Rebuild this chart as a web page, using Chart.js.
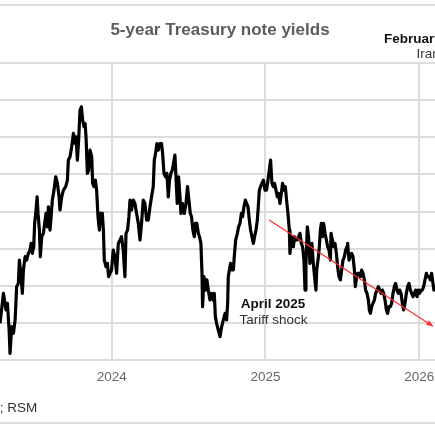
<!DOCTYPE html>
<html><head><meta charset="utf-8">
<script src="https://cdn.jsdelivr.net/npm/chart.js@4.4.1/dist/chart.umd.min.js"></script>
<style>
html,body{margin:0;padding:0;width:435px;height:435px;overflow:hidden;background:#fff;position:relative;}
#wrap{position:absolute;left:-200px;top:0;width:840px;height:435px;}
.rule{position:absolute;left:0;width:435px;height:2px;background:#dedede;}
</style></head><body>
<div class="rule" style="top:4px"></div>
<div class="rule" style="top:422px"></div>
<div id="wrap"><canvas id="c" width="840" height="435"></canvas></div>
<script>
const TITLE = '5-year Treasury note yields';
const years = [
2023.274,2023.296,2023.313,2023.322,2023.333,2023.339,2023.350,2023.361,2023.372,2023.382,
2023.393,2023.400,2023.411,2023.419,2023.426,2023.437,2023.447,2023.458,2023.469,2023.476,
2023.484,2023.493,2023.499,2023.508,2023.515,2023.521,2023.530,2023.536,2023.545,2023.556,
2023.564,2023.573,2023.582,2023.588,2023.599,2023.606,2023.614,2023.625,2023.636,2023.647,
2023.658,2023.664,2023.675,2023.686,2023.701,2023.712,2023.718,2023.729,2023.740,2023.751,
2023.762,2023.768,2023.777,2023.785,2023.794,2023.803,2023.811,2023.820,2023.827,2023.833,
2023.842,2023.850,2023.859,2023.870,2023.876,2023.885,2023.894,2023.902,2023.911,2023.920,
2023.928,2023.939,2023.946,2023.952,2023.963,2023.972,2023.980,2023.989,
2023.999,2024.010,2024.021,2024.032,2024.043,2024.054,2024.064,2024.075,2024.086,2024.093,
2024.103,2024.112,2024.119,2024.129,2024.140,2024.151,2024.162,2024.173,2024.184,2024.194,
2024.205,2024.216,2024.227,2024.238,2024.249,2024.259,2024.270,2024.277,2024.285,2024.294,
2024.303,2024.314,2024.324,2024.331,2024.340,2024.350,2024.359,2024.368,2024.376,2024.385,
2024.394,2024.402,2024.411,2024.418,2024.426,2024.435,2024.444,2024.450,2024.461,2024.472,
2024.483,2024.493,2024.502,2024.511,2024.519,2024.528,2024.537,2024.545,2024.554,2024.563,
2024.571,2024.580,2024.587,2024.591,2024.600,2024.610,2024.619,2024.628,2024.639,2024.649,2024.660,
2024.667,2024.674,2024.682,2024.693,2024.704,2024.715,2024.726,2024.737,2024.747,2024.754,
2024.758,2024.765,2024.773,2024.782,2024.791,2024.797,2024.806,2024.817,2024.825,2024.834,
2024.843,2024.851,2024.860,2024.869,2024.877,2024.886,2024.895,2024.903,2024.912,2024.921,
2024.929,2024.938,2024.947,2024.953,2024.960,2024.968,2024.977,2024.986,2024.997,2025.007,
2025.016,2025.025,2025.033,2025.042,2025.051,2025.059,2025.068,2025.077,2025.085,2025.094,
2025.103,2025.111,2025.120,2025.129,2025.137,2025.146,2025.155,2025.159,2025.166,2025.172,
2025.181,2025.189,2025.198,2025.207,2025.215,2025.224,2025.233,2025.241,2025.250,2025.257,
2025.263,2025.272,2025.280,2025.289,2025.296,2025.302,2025.311,2025.319,2025.328,
2025.333,2025.344,2025.350,2025.357,2025.363,2025.370,2025.378,2025.387,2025.396,2025.404,
2025.413,2025.422,2025.426,2025.435,2025.443,2025.452,2025.461,2025.469,2025.478,2025.487,
2025.495,2025.504,2025.513,2025.521,2025.530,2025.534,2025.543,2025.552,2025.560,2025.569,
2025.578,2025.584,2025.593,2025.599,2025.608,2025.617,2025.625,2025.634,2025.643,2025.651,
2025.660,2025.669,2025.675,2025.682,2025.690,2025.699,2025.708,2025.716,2025.725,2025.734,
2025.742,2025.751,2025.760,2025.768,2025.777,2025.786,2025.794,2025.803,2025.812,2025.820,
2025.829,2025.838,2025.846,2025.855,2025.864,2025.872,2025.881,2025.890,2025.898,2025.907,
2025.916,2025.924,2025.933,2025.942,2025.950,2025.959,2025.968,2025.976,2025.985,2025.994,
2026.002,2026.011,2026.020,2026.028,2026.037,2026.046,2026.054,2026.063,2026.072,2026.080,
2026.089,2026.095,2026.102
];
const yields = [
3.497,3.699,3.587,3.632,3.452,3.295,3.475,3.430,3.520,3.744,
3.766,3.923,3.811,3.699,3.856,3.946,3.923,3.968,3.990,4.035,
3.968,4.013,4.170,4.260,4.349,4.237,4.125,3.946,4.080,4.103,
4.170,4.237,4.147,4.282,4.125,4.215,4.327,4.394,4.484,4.439,
4.349,4.260,4.349,4.394,4.417,4.461,4.596,4.619,4.686,4.776,
4.708,4.753,4.596,4.731,4.933,4.955,4.866,4.821,4.843,4.753,
4.507,4.529,4.663,4.619,4.439,4.417,4.461,4.394,4.215,4.125,
4.237,4.237,4.125,3.923,3.878,3.901,3.811,3.834,
3.856,3.990,3.946,3.834,4.035,4.058,4.080,3.990,3.811,4.103,
4.125,4.215,4.327,4.260,4.327,4.304,4.237,4.170,4.058,4.170,
4.327,4.304,4.192,4.192,4.282,4.349,4.417,4.596,4.641,4.708,
4.663,4.708,4.708,4.641,4.507,4.484,4.507,4.349,4.461,4.507,
4.529,4.574,4.630,4.484,4.304,4.484,4.349,4.237,4.304,4.237,
4.304,4.417,4.327,4.237,4.215,4.125,4.080,4.170,4.170,4.103,
4.080,4.035,3.834,3.609,3.811,3.721,3.789,3.721,3.654,3.699,3.654,
3.699,3.542,3.497,3.452,3.407,3.475,3.520,3.564,3.520,3.632,
3.811,3.856,3.901,3.856,3.856,3.946,4.058,4.103,4.147,4.170,
4.237,4.215,4.282,4.327,4.304,4.282,4.192,4.125,4.080,4.035,
4.080,4.125,4.192,4.282,4.394,4.417,4.439,4.461,4.394,4.394,
4.461,4.529,4.596,4.439,4.417,4.439,4.394,4.349,4.372,4.304,
4.372,4.439,4.394,4.417,4.327,4.237,4.125,3.968,4.058,4.080,
4.013,4.080,4.058,4.058,4.080,4.103,4.035,4.013,3.923,3.721,
3.901,4.147,4.080,3.901,3.990,4.035,3.901,3.811,3.721,
3.856,3.946,4.013,4.125,4.170,4.080,4.170,4.103,4.058,4.013,
3.990,3.923,4.103,4.058,4.013,4.035,3.968,3.878,3.811,3.789,
3.856,3.923,3.946,3.990,4.013,4.035,3.923,3.946,3.968,3.946,
3.856,3.744,3.811,3.834,3.834,3.811,3.856,3.834,3.789,3.721,
3.699,3.654,3.587,3.564,3.609,3.632,3.654,3.699,3.721,3.744,
3.721,3.699,3.721,3.699,3.654,3.587,3.564,3.609,3.609,3.632,
3.699,3.744,3.766,3.721,3.699,3.721,3.699,3.632,3.587,3.632,
3.699,3.744,3.766,3.721,3.699,3.676,3.699,3.721,3.676,3.721,
3.699,3.721,3.721,3.744,3.789,3.834,3.811,3.811,3.789,3.834,
3.766,3.721,3.744
];
const arrowYears = [2025.023, 2026.089];
const arrowYields = [4.192, 3.478];
const yearTicks = [2023, 2024, 2025, 2026];
const yieldTicks = [3.25, 3.5, 3.75, 4.0, 4.25, 4.5, 4.75, 5.0, 5.25];
const aprilNote = ['April 2025', 'Tariff shock'];
const febNote = ['February 2026', 'Iran war'];
const sourceText = 'Source: LSEG; RSM';

const FONT = '"Liberation Sans", Arial, sans-serif';
Chart.defaults.font.family = FONT;
const OFF = 200; // canvas is shifted left by this many px (the reference is a crop)

const notes = {
  id: 'notes',
  afterDatasetsDraw(chart) {
    const ctx = chart.ctx;
    const meta = chart.getDatasetMeta(0);
    const p0 = meta.data[0], p1 = meta.data[1];
    const ang = Math.atan2(p1.y - p0.y, p1.x - p0.x);
    ctx.save();
    ctx.fillStyle = '#ff2a2a';
    ctx.beginPath();
    ctx.moveTo(p1.x, p1.y);
    ctx.lineTo(p1.x - 7 * Math.cos(ang - 0.4), p1.y - 7 * Math.sin(ang - 0.4));
    ctx.lineTo(p1.x - 7 * Math.cos(ang + 0.4), p1.y - 7 * Math.sin(ang + 0.4));
    ctx.closePath();
    ctx.fill();

    ctx.textBaseline = 'middle';
    ctx.textAlign = 'center';
    ctx.fillStyle = '#111';
    ctx.font = 'bold 13.5px ' + FONT;
    ctx.fillText(aprilNote[0], OFF + 273, 304);
    ctx.fillStyle = '#333';
    ctx.font = '13.5px ' + FONT;
    ctx.fillText(aprilNote[1], OFF + 273.5, 320);

    ctx.textAlign = 'left';
    ctx.fillStyle = '#111';
    ctx.font = 'bold 13.5px ' + FONT;
    ctx.fillText(febNote[0], OFF + 384, 39);
    ctx.fillStyle = '#333';
    ctx.font = '13.5px ' + FONT;
    ctx.fillText(febNote[1], OFF + 416.5, 54);

    ctx.textAlign = 'right';
    ctx.fillStyle = '#333';
    ctx.font = '13.5px ' + FONT;
    ctx.fillText(sourceText, OFF + 37.3, 408);
    ctx.restore();
  }
};

new Chart(document.getElementById('c'), {
  type: 'line',
  data: {
    datasets: [
      {
        label: 'trend',
        data: arrowYears.map((v, i) => ({x: v, y: arrowYields[i]})),
        borderColor: '#ff3030',
        borderWidth: 1.2,
        pointRadius: 0,
        order: 0
      },
      {
        label: '5-year Treasury yield',
        data: years.map((v, i) => ({x: v, y: yields[i]})),
        borderColor: '#000',
        borderWidth: 3.2,
        pointRadius: 0,
        tension: 0,
        borderJoinStyle: 'round',
        order: 1
      }
    ]
  },
  options: {
    responsive: false,
    animation: false,
    events: [],
    layout: {padding: 0},
    plugins: {
      legend: {display: false},
      tooltip: {enabled: false},
      title: {
        display: true, text: TITLE, color: '#5c5c5c',
        font: {size: 17, weight: 'bold'},
        padding: {top: 20, bottom: 22.6}
      }
    },
    scales: {
      x: {
        type: 'linear', min: 2022.75, max: 2027.435,
        afterBuildTicks(s) { s.ticks = yearTicks.map(v => ({value: v})); },
        ticks: {callback: v => String(v), color: '#666', font: {size: 13.5}, padding: 9, autoSkip: false, maxRotation: 0},
        grid: {color: '#dcdcdc', lineWidth: 2, drawTicks: false},
        border: {display: false},
        afterFit(s) { s.height = 75; }
      },
      y: {
        min: 3.25, max: 5.25,
        afterBuildTicks(s) { s.ticks = yieldTicks.map(v => ({value: v})); },
        ticks: {callback: v => v.toFixed(2) + '%', color: '#666', font: {size: 13.5}},
        grid: {color: '#dcdcdc', lineWidth: 2, drawTicks: false},
        border: {display: false},
        afterFit(s) { s.width = 119.45; }
      }
    }
  },
  plugins: [notes]
});
</script>
</body></html>
